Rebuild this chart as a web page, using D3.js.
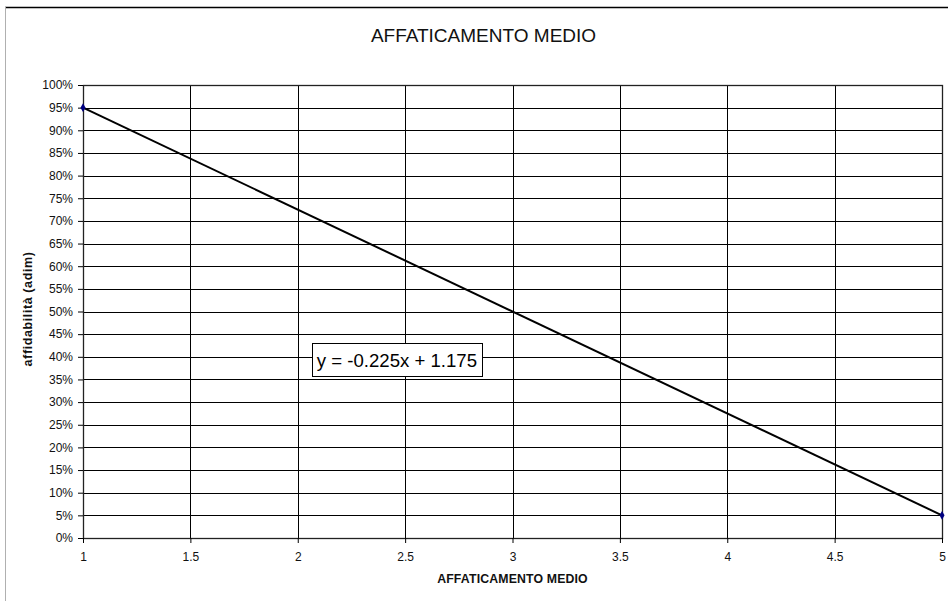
<!DOCTYPE html>
<html>
<head>
<meta charset="utf-8">
<script src="https://cdn.jsdelivr.net/npm/d3@7"></script>
<style>
  body { margin: 0; background: #fff; }
  svg { display: block; font-family: "Liberation Sans", Arial, sans-serif; }
</style>
</head>
<body>
<div id="chart"></div>
<script>
// data
var xValues = [1, 5];
var yValues = [0.95, 0.05];
var xTicks = [1, 1.5, 2, 2.5, 3, 3.5, 4, 4.5, 5];
var yTicks = d3.range(0, 21).map(function(i){ return i * 0.05; });
var title = "AFFATICAMENTO MEDIO";
var xTitle = "AFFATICAMENTO MEDIO";
var yTitle = "affidabilità (adim)";
var trendText = "y = -0.225x + 1.175";
var trendAnchor = [2.066, 0.43]; // where the equation box sits, in data units

var data = xValues.map(function(x, i){ return {x: x, y: yValues[i]}; });

var W = 948, H = 601;
var margin = {top: 85, right: 6, bottom: 63, left: 83};
var width = W - margin.left - margin.right,
    height = H - margin.top - margin.bottom;

var x = d3.scaleLinear().domain([1, 5]).range([0, width]);
var y = d3.scaleLinear().domain([0, 1]).range([height, 0]);

var svg = d3.select("#chart").append("svg")
    .attr("width", W)
    .attr("height", H);

// outer chart border
svg.append("line").attr("x1", 5).attr("x2", W).attr("y1", 7.5).attr("y2", 7.5)
    .attr("stroke", "#000").attr("stroke-width", 1.4);
svg.append("line").attr("x1", 5.5).attr("x2", 5.5).attr("y1", 7).attr("y2", H)
    .attr("stroke", "#b0b0b0").attr("stroke-width", 1);

svg.append("text")
    .attr("x", 483.5)
    .attr("y", 42)
    .attr("text-anchor", "middle")
    .style("font-size", "19px")
    .style("fill", "#111")
    .text(title);

var g = svg.append("g")
    .attr("transform", "translate(" + margin.left + "," + margin.top + ")");

// grid
g.append("g").selectAll("line").data(yTicks).enter().append("line")
    .attr("x1", 0).attr("x2", width)
    .attr("y1", function(d){ return Math.round(y(d)) + 0.5; })
    .attr("y2", function(d){ return Math.round(y(d)) + 0.5; })
    .attr("stroke", "#000").attr("stroke-width", 1);

g.append("g").selectAll("line").data(xTicks).enter().append("line")
    .attr("y1", 0).attr("y2", height)
    .attr("x1", function(d){ return Math.round(x(d)) + 0.5; })
    .attr("x2", function(d){ return Math.round(x(d)) + 0.5; })
    .attr("stroke", "#000").attr("stroke-width", 1);

g.append("rect")
    .attr("x", 0.5).attr("y", 0.5)
    .attr("width", width).attr("height", height)
    .attr("fill", "none").attr("stroke", "#222").attr("stroke-width", 1.3);

// axes
var xAxis = g.append("g")
    .attr("transform", "translate(0," + height + ")")
    .call(d3.axisBottom(x).tickValues(xTicks).tickSize(5).tickPadding(9)
        .tickFormat(d3.format("")));
var yAxis = g.append("g")
    .call(d3.axisLeft(y).tickValues(yTicks).tickSize(5).tickPadding(5)
        .tickFormat(d3.format(".0%")));

[xAxis, yAxis].forEach(function(a){
    a.select(".domain").remove();
    a.selectAll(".tick line").attr("stroke", "#000");
    a.selectAll(".tick text")
        .style("font-size", "12px")
        .style("font-family", "'Liberation Sans', Arial, sans-serif")
        .attr("fill", "#111");
});

// trend line and points
var line = d3.line()
    .x(function(d){ return x(d.x); })
    .y(function(d){ return y(d.y); });

g.append("path")
    .datum(data)
    .attr("fill", "none")
    .attr("stroke", "#000")
    .attr("stroke-width", 2)
    .attr("d", line);

g.selectAll(".pt").data(data).enter().append("path")
    .attr("class", "pt")
    .attr("transform", function(d){ return "translate(" + x(d.x) + "," + y(d.y) + ")"; })
    .attr("d", d3.symbol().type(d3.symbolDiamond).size(22))
    .attr("fill", "#000080");

// equation label
var bx = x(trendAnchor[0]), by = y(trendAnchor[1]);
g.append("rect")
    .attr("x", Math.round(bx) + 0.5).attr("y", Math.round(by) + 0.5)
    .attr("width", 170).attr("height", 33)
    .attr("fill", "#fff").attr("stroke", "#000").attr("stroke-width", 1);
g.append("text")
    .attr("x", bx + 85).attr("y", by + 24)
    .attr("text-anchor", "middle")
    .style("font-size", "18.6px")
    .style("fill", "#000")
    .text(trendText);

// axis titles
svg.append("text")
    .attr("x", margin.left + width / 2)
    .attr("y", 583)
    .attr("text-anchor", "middle")
    .style("font-size", "12.3px")
    .style("font-weight", "bold")
    .style("letter-spacing", "0.15px")
    .style("fill", "#111")
    .text(xTitle);

svg.append("text")
    .attr("transform", "translate(32,309) rotate(-90)")
    .attr("text-anchor", "middle")
    .style("font-size", "12.5px")
    .style("font-weight", "bold")
    .style("letter-spacing", "0.6px")
    .style("fill", "#111")
    .text(yTitle);
</script>
</body>
</html>
